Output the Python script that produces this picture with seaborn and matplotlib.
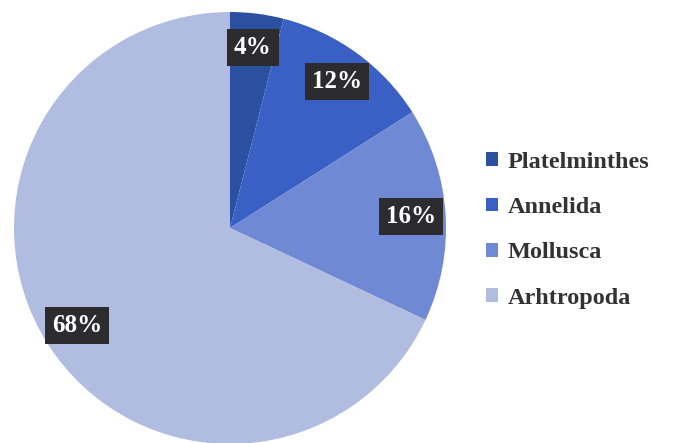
import matplotlib
matplotlib.use("Agg")
import matplotlib.pyplot as plt
import seaborn as sns

# Share of each phylum (percent)
phyla = ["Platelminthes", "Annelida", "Mollusca", "Arhtropoda"]
shares = [4, 12, 16, 68]
colors = ["#2b50a0", "#3a60c6", "#7089d4", "#b1bde0"]

sns.set_theme(style="white")
plt.rcParams["font.family"] = ["Liberation Serif", "DejaVu Serif"]

W, H = 687, 443
fig = plt.figure(figsize=(W / 100, H / 100), dpi=100)
fig.patch.set_facecolor("white")

# pie centred at (230, 228) px with radius 216 px
cx, cy, r = 230, 228, 216
ax = fig.add_axes([(cx - r) / W, (H - cy - r) / H, 2 * r / W, 2 * r / H])

wedges, texts, autotexts = ax.pie(
    shares,
    colors=colors,
    startangle=90,
    counterclock=False,
    autopct=lambda p: f"{p:.0f}%",
    pctdistance=0.84,
    wedgeprops=dict(linewidth=0),
    textprops=dict(color="white", fontsize=18, fontweight="bold"),
)
for t in autotexts:
    t.set_bbox(dict(boxstyle="square,pad=0.28", facecolor="#2c2c2e", edgecolor="none"))
ax.set_aspect("equal")
ax.set_xlim(-1, 1)
ax.set_ylim(-1, 1)
ax.axis("off")

leg = fig.legend(
    wedges, phyla,
    loc="upper left",
    bbox_to_anchor=(464 / W, 1 - 130 / H),
    frameon=False,
    handlelength=0.5,
    handleheight=0.5,
    handletextpad=0.4,
    labelspacing=1.0,
    prop=dict(family=["Liberation Serif"], weight="bold", size=17.5),
)
for t in leg.get_texts():
    t.set_color("#333333")

fig.savefig("out.png", dpi=100)
